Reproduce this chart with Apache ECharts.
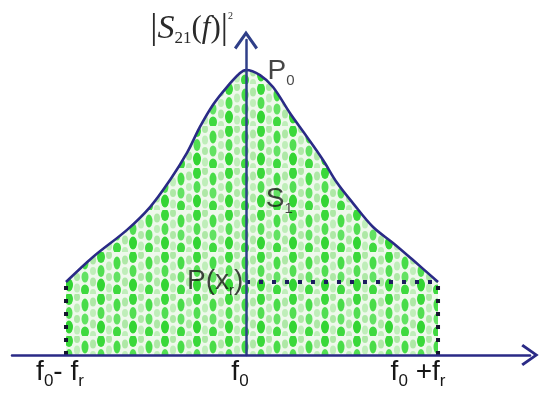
<!DOCTYPE html>
<html>
<head>
<meta charset="utf-8">
<script src="https://cdn.jsdelivr.net/npm/echarts@6/dist/echarts.min.js"></script>
<style>
  html, body { margin: 0; padding: 0; background: #ffffff; }
  #chart { width: 541px; height: 394px; }
</style>
</head>
<body>
<div id="chart"></div>
<script>
// Resonance curve |S21(f)|^2, frequency in units of f_r around f0, power relative to P0
const curveX = [-1.0, -0.85, -0.661, -0.533, -0.422, -0.328, -0.256, -0.183, -0.106, -0.033, 0, 0.078, 0.15, 0.244, 0.339, 0.428, 0.506, 0.594, 0.706, 0.817, 0.928, 1.067];
const curveY = [0.256, 0.344, 0.439, 0.519, 0.614, 0.709, 0.80, 0.878, 0.940, 0.989, 1.0, 0.982, 0.940, 0.849, 0.765, 0.684, 0.604, 0.533, 0.449, 0.393, 0.333, 0.256];

// Band edges and the level P(x_r)
const edgeX = [-1.0, 1.067];
const levelY = 0.256;

// Frequency tick labels
const tickValues = [-1.0, 0, 1.067];
const tickLabels = ['{t|f}{s|0}{t|- f}{s|r}{sp| }', '{t|f}{s|0}{sp| }', '{t|f}{s|0}{t| +}{t|f}{s|r}{wp| }'];

// Annotations: peak, area, level
const noteNames = ['P0', 'S1', 'Pxr'];
const noteTexts = ['{m|P}{s|0}', '{m|S}{s|1}', '{m|P(x}{s|r}{m|)}'];
const noteAt = { P0: [0.12, 0.996], S1: [0.11, 0.547], Pxr: [-0.015, 0.26] };
const notePos = { P0: 'right', S1: 'right', Pxr: 'left' };

const NAVY = '#2a2a86';
const INK = '#161616';

// dotted green fill texture
function makeFill() {
  const c = document.createElement('canvas');
  c.width = 32; c.height = 42;
  const g = c.getContext('2d');
  g.fillStyle = '#eef9eb';
  g.fillRect(0, 0, 32, 42);
  const blob = (x, y, w, h, col) => {
    g.fillStyle = col;
    g.beginPath();
    g.ellipse(x, y, w / 2, h / 2, 0, 0, Math.PI * 2);
    g.fill();
  };
  // pale columns
  [[13, 3, 6, 8], [13, 14, 6, 9], [13, 25, 6, 8], [13, 36, 6, 9],
   [29, 8, 6, 9], [29, 19, 6, 8], [29, 30, 6, 9], [29, 41, 6, 8]].forEach(([x, y, w, h], i) =>
    blob(x, y, w, h, i % 2 ? '#bfeeb9' : '#aee8a6'));
  // bright columns
  [[5, 5, 8, 12, '#3ad83a'], [5, 19, 7, 12, '#52de52'], [5, 33, 8, 13, '#33d533'],
   [21, 11, 7, 13, '#48dc48'], [21, 25, 7, 11, '#62e262'], [21, 38, 8, 11, '#3fd93f']].forEach(([x, y, w, h, col]) =>
    blob(x, y, w, h, col));
  return c;
}

const chevron = 'path://M12,0 L24,17 L21.6,19 L12,5.2 L2.4,19 L0,17 Z';

const chart = echarts.init(document.getElementById('chart'), null, { renderer: 'canvas' });

// subscripts sit at the bottom of a tall line box, main glyphs in its middle
const tickRich = {
  t: { fontFamily: 'Liberation Sans', fontSize: 28, color: INK, lineHeight: 36 },
  s: { fontFamily: 'Liberation Sans', fontSize: 17, color: INK, verticalAlign: 'bottom' },
  sp: { width: 12 },
  wp: { width: 40 }
};

chart.setOption({
  animation: false,
  backgroundColor: '#ffffff',
  grid: { left: 12, right: 11, top: 40, bottom: 39 },
  xAxis: {
    type: 'value',
    min: -1.3,
    max: 1.578,
    z: 4,
    splitLine: { show: false },
    axisTick: { show: false },
    axisLine: {
      show: true,
      lineStyle: { color: NAVY, width: 2.5 },
      symbol: ['none', chevron],
      symbolSize: [22, 18]
    },
    axisLabel: {
      show: true,
      customValues: tickValues,
      margin: -1,
      formatter: (v) => {
        const i = tickValues.indexOf(v);
        return i >= 0 ? tickLabels[i] : '';
      },
      rich: tickRich
    }
  },
  yAxis: {
    type: 'value',
    min: 0,
    max: 1.105,
    z: 4,
    splitLine: { show: false },
    axisTick: { show: false },
    axisLabel: { show: false },
    axisLine: {
      show: true,
      onZero: true,
      lineStyle: { color: '#2f3f88', width: 2.5 },
      symbol: ['none', chevron],
      symbolSize: [24, 20]
    },
    name: '{b|\u007C}{S|S}{n|21}{p|(}{f|f}{p|)}{b|\u007C}{e|2}',
    nameLocation: 'end',
    nameGap: 11,
    nameTextStyle: {
      align: 'right',
      verticalAlign: 'middle',
      padding: [0, 13, 0, 0],
      rich: {
        b: { fontFamily: 'Liberation Serif', fontSize: 36, color: '#2a2a2a', lineHeight: 36 },
        S: { fontFamily: 'Liberation Serif', fontStyle: 'italic', fontSize: 34, color: '#2a2a2a', lineHeight: 36 },
        n: { fontFamily: 'Liberation Serif', fontSize: 17, color: '#2a2a2a', verticalAlign: 'bottom' },
        p: { fontFamily: 'Liberation Serif', fontSize: 31, color: '#2a2a2a', lineHeight: 36 },
        f: { fontFamily: 'Liberation Serif', fontStyle: 'italic', fontSize: 31, color: '#2a2a2a', lineHeight: 36 },
        e: { fontFamily: 'Liberation Serif', fontSize: 10, color: '#2a2a2a', verticalAlign: 'top' }
      }
    }
  },
  series: [
    {
      name: 'curve',
      type: 'line',
      z: 2,
      smooth: 0.35,
      symbol: 'none',
      data: curveX.map((x, i) => [x, curveY[i]]),
      lineStyle: { color: NAVY, width: 2.6 },
      areaStyle: { color: { image: makeFill(), repeat: 'repeat' }, opacity: 1 }
    },
    {
      name: 'lower edge',
      type: 'line',
      z: 3,
      symbol: 'none',
      data: [[edgeX[0], 0], [edgeX[0], levelY]],
      lineStyle: { color: '#15152e', width: 4, type: [4, 9], cap: 'butt' }
    },
    {
      name: 'upper edge',
      type: 'line',
      z: 3,
      symbol: 'none',
      data: [[edgeX[1], 0], [edgeX[1], levelY]],
      lineStyle: { color: '#15152e', width: 4, type: [4, 9], cap: 'butt' }
    },
    {
      name: 'level',
      type: 'line',
      z: 3,
      symbol: 'none',
      data: [[0, levelY], [edgeX[1], levelY]],
      lineStyle: { color: '#1c1c5e', width: 4, type: [4, 9], cap: 'butt' }
    },
    {
      name: 'notes',
      type: 'scatter',
      z: 6,
      symbolSize: 0,
      data: noteNames.map((n) => ({ name: n, value: noteAt[n], label: { position: notePos[n] } })),
      label: {
        show: true,
        distance: 0,
        formatter: (p) => noteTexts[noteNames.indexOf(p.name)],
        rich: {
          m: { fontFamily: 'Liberation Sans', fontSize: 28, color: INK, lineHeight: 34 },
          s: { fontFamily: 'Liberation Sans', fontSize: 15, color: INK, verticalAlign: 'bottom' }
        }
      }
    }
  ]
});
</script>
</body>
</html>
